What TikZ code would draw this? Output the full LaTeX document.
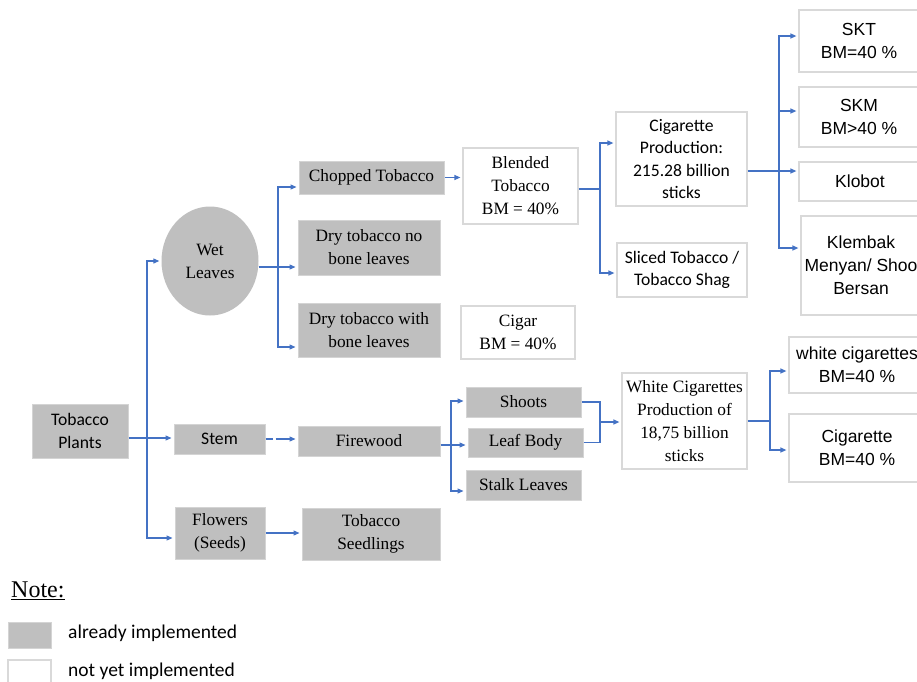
\documentclass[tikz,border=0pt]{standalone}
\usepackage{fontspec}
\setmainfont{Liberation Serif}
\newfontfamily\calf{Carlito}
\newfontfamily\arif{Liberation Sans}
\usetikzlibrary{arrows.meta,shapes.geometric}
\definecolor{gfill}{HTML}{BFBFBF}
\definecolor{gline}{HTML}{D4D4D4}
\definecolor{wline}{HTML}{D9D9D9}
\definecolor{conn}{HTML}{4472C4}
\tikzset{
  gbox/.style={draw=gline,fill=gfill,line width=1pt,inner sep=0pt,align=center},
  wbox/.style={draw=wline,fill=white,line width=1.2pt,inner sep=0pt,align=center},
  ser/.style={font=\fontsize{17.3}{23}\selectfont},
  cal/.style={font=\calf\fontsize{17.6}{22.5}\selectfont},
  ari/.style={font=\arif\fontsize{17.5}{23}\selectfont},
  ln/.style={draw=conn,line width=1.2pt},
  arr/.style={ln,-{Triangle[length=6pt,width=5pt]},shorten >=2pt},
}
\begin{document}
\begin{tikzpicture}[x=1pt,y=-1pt]
\useasboundingbox (0,0) rectangle (917,681);
\clip (0,0) rectangle (917,681);
% gray (implemented) nodes
\node[gbox,cal,minimum width=96pt,minimum height=54pt] (tp) at (80,431) {Tobacco\\Plants};
\node[gbox,cal,minimum width=91pt,minimum height=30pt] (stem) at (219.5,439) {Stem};
\node[gbox,ser,minimum width=90pt,minimum height=52pt] (flowers) at (220,533) {Flowers\\(Seeds)};
\node[ellipse,fill=gfill,inner sep=0pt,minimum width=97pt,minimum height=109pt,align=center,ser] (wet) at (210,261) {Wet\\Leaves};
\node[gbox,ser,minimum width=145pt,minimum height=33pt] (chopped) at (371.5,177.5) {Chopped Tobacco};
\node[gbox,ser,minimum width=142pt,minimum height=55pt] (drynot) at (369,247.5) {Dry tobacco no\\bone leaves};
\node[gbox,ser,minimum width=142pt,minimum height=54pt] (drywith) at (369,330) {Dry tobacco with\\bone leaves};
\node[gbox,ser,minimum width=142pt,minimum height=30pt] (firewood) at (369,441) {Firewood};
\node[gbox,ser,minimum width=138pt,minimum height=52pt] (seedlings) at (371,534) {Tobacco\\Seedlings};
\node[gbox,ser,minimum width=115pt,minimum height=30pt] (shoots) at (523.5,402) {Shoots};
\node[gbox,ser,minimum width=115pt,minimum height=29pt] (leafbody) at (525.5,442.5) {Leaf Body};
\node[gbox,ser,minimum width=115pt,minimum height=30pt] (stalk) at (523.5,485) {Stalk Leaves};
% white (not yet implemented) nodes
\node[wbox,ser,minimum width=115pt,minimum height=76pt] (blended) at (520.5,186) {Blended\\Tobacco\\BM = 40\%};
\node[wbox,ser,minimum width=114pt,minimum height=53pt] (cigar) at (518,332.5) {Cigar\\BM = 40\%};
\node[wbox,cal,minimum width=131pt,minimum height=94pt] (cigprod) at (681.5,159) {Cigarette\\Production:\\215.28 billion\\sticks};
\node[wbox,cal,minimum width=130pt,minimum height=54pt] (sliced) at (682,270) {Sliced Tobacco /\\Tobacco Shag};
\node[wbox,ser,minimum width=125pt,minimum height=96pt] (whitecig) at (684.5,421) {White Cigarettes\\Production of\\18,75 billion\\sticks};
\node[wbox,ari,minimum width=120pt,minimum height=62pt] (skt) at (859,41) {SKT\\BM=40 \%};
\node[wbox,ari,minimum width=120pt,minimum height=60pt] (skm) at (859,117) {SKM\\BM>40 \%};
\node[wbox,ari,minimum width=122pt,minimum height=39pt] (klobot) at (860,181.5) {Klobot};
\node[wbox,ari,minimum width=120pt,minimum height=99pt] (klembak) at (861,265.5) {Klembak\\Menyan/ Shoo\\Bersan};
\node[wbox,ari,minimum width=136pt,minimum height=56pt] (whitecigs) at (857,365) {white cigarettes\\BM=40 \%};
\node[wbox,ari,minimum width=136pt,minimum height=68pt] (cigbm) at (857,448) {Cigarette\\BM=40 \%};
% junctions
\coordinate (j1) at (147,438);
\coordinate (j2) at (278,267);
\coordinate (j3) at (600,189);
\coordinate (j4) at (779,171);
\coordinate (j5) at (451,445);
\coordinate (j6) at (600,422);
\coordinate (j7) at (770,421);
% connectors
\draw[arr] (tp.east|-j1) -- (stem.west|-j1);
\draw[arr] (j1) |- (wet.west);
\draw[arr] (j1) |- ([yshift=-5pt]flowers.west);
\draw[arr] (flowers.east) -- (seedlings.west|-flowers.east);
\draw[arr] (wet.east|-j2) -- (drynot.west|-j2);
\draw[arr] (j2) |- ([yshift=-9.5pt]chopped.west);
\draw[arr] (j2) |- ([yshift=-17pt]drywith.west);
\draw[arr] (chopped.east) -- (blended.west|-chopped.east);
\draw[ln] (blended.east|-j3) -- (j3);
\draw[arr] (j3) |- ([yshift=16pt]cigprod.west);
\draw[arr] (j3) |- ([yshift=-3pt]sliced.west);
\draw[arr] (cigprod.east|-j4) -- (klobot.west|-j4);
\draw[arr] (j4) |- ([yshift=5pt]skt.west);
\draw[arr] (j4|-skm.west) ++(0,-6) -- ([yshift=6pt]skm.west);
\draw[arr] (j4) |- ([yshift=17.5pt]klembak.west);
\draw[arr,dash pattern=on 7pt off 3pt on 40pt] (stem.east) -- (firewood.west|-stem.east);
\draw[ln] (firewood.east|-j5) -- (j5);
\draw[arr] (j5) |- ([yshift=1pt]shoots.west);
\draw[arr] (j5) -- (leafbody.west|-j5);
\draw[arr] (j5) |- ([yshift=-6pt]stalk.west);
\draw[ln] (shoots.east) -| (j6);
\draw[ln] (leafbody.east) -| (j6);
\draw[arr] (j6) -- (whitecig.west|-j6);
\draw[ln] (whitecig.east|-j7) -- (j7);
\draw[arr] (j7) |- ([yshift=-6pt]whitecigs.west);
\draw[arr] (j7) |- ([yshift=-2pt]cigbm.west);
% legend
\node[anchor=west,inner sep=0pt,font=\fontsize{24}{28}\selectfont] (note) at (11,591) {\underline{Note:}};
\node[gbox,minimum width=43pt,minimum height=26pt] (lg1) at (29.5,635) {};
\node[wbox,minimum width=43pt,minimum height=26pt] (lg2) at (29.5,673) {};
\node[anchor=west,inner sep=0pt,font=\calf\fontsize{19.5}{22}\selectfont] (lt1) at (68,633) {already implemented};
\node[anchor=west,inner sep=0pt,font=\calf\fontsize{19.5}{22}\selectfont] (lt2) at (68,671) {not yet implemented};
\end{tikzpicture}
\end{document}
